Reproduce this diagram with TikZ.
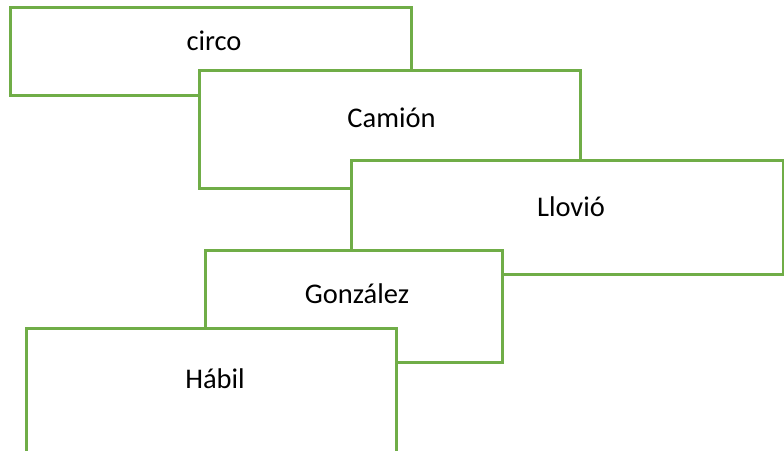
\documentclass[tikz,border=0pt]{standalone}
\usepackage{fontspec}
\setmainfont{Carlito}
\definecolor{boxgreen}{HTML}{70AD47}
\begin{document}
\begin{tikzpicture}[x=1pt,y=-1pt,
  box/.style={draw=boxgreen,fill=white,line width=3pt},
  lbl/.style={anchor=base,inner sep=0pt,font=\fontsize{28.5}{32}\selectfont}]
\useasboundingbox (0,0) rectangle (784,450);
\clip (0,0) rectangle (784,450);
\draw[box] (10,7) rectangle (411,95);
\node[lbl] (t1) at (214,50) {circo};
\draw[box] (199,70) rectangle (580,188);
\node[lbl] (t2) at (391.5,127) {Camión};
\draw[box] (351,160) rectangle (783,274);
\node[lbl] (t3) at (571,216) {Llovió};
\draw[box] (205,250) rectangle (502,362);
\node[lbl] (t4) at (357,303) {González};
\draw[box] (26,328) rectangle (396,452);
\node[lbl] (t5) at (215,388) {Hábil};
\end{tikzpicture}
\end{document}
